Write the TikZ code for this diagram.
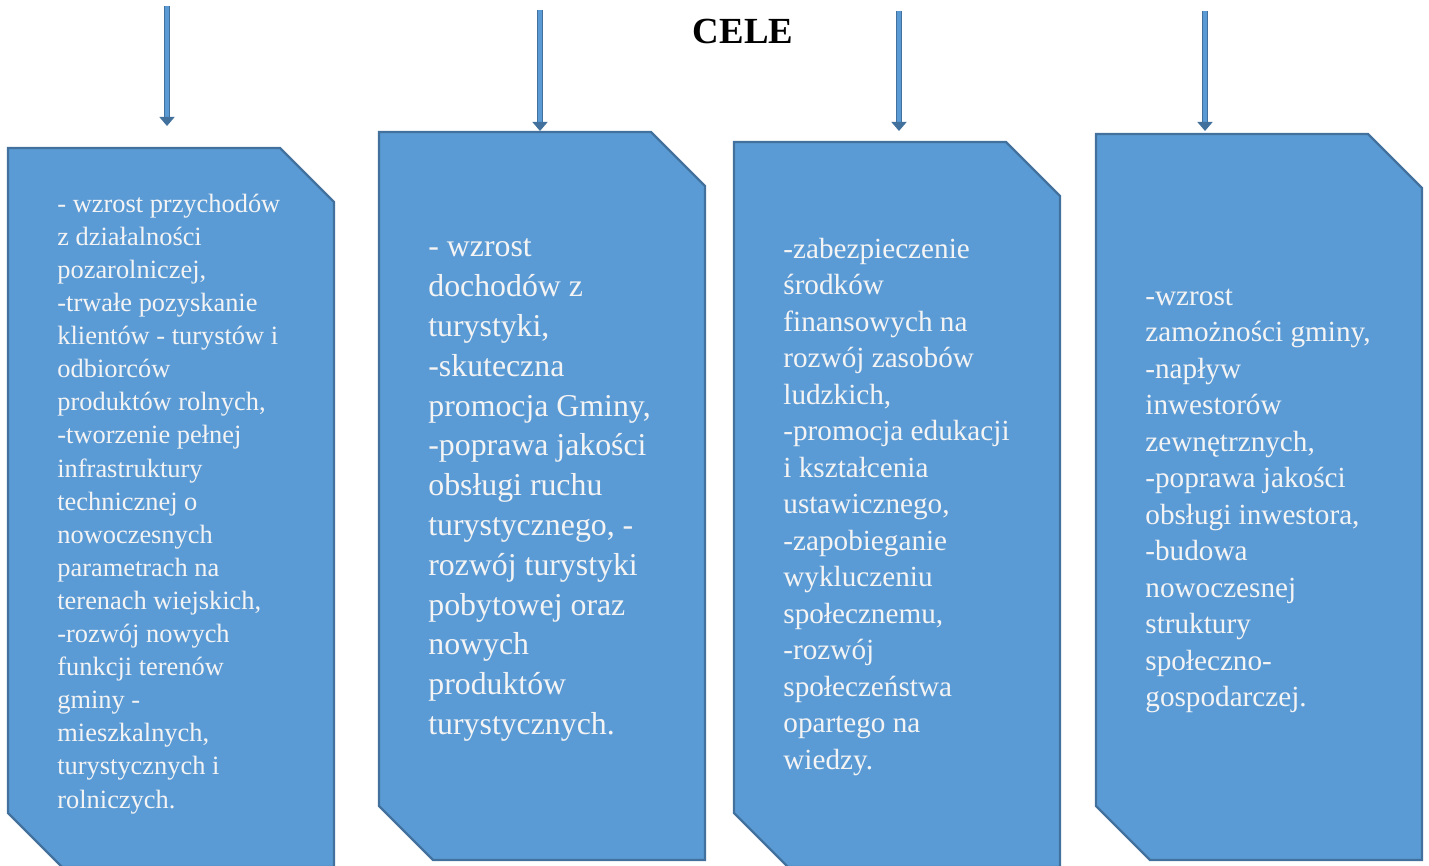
\documentclass[tikz,border=0pt]{standalone}
\usepackage{fontspec}
\setmainfont{Liberation Serif}
\usetikzlibrary{arrows.meta}
\definecolor{boxblue}{HTML}{5B9BD5}
\definecolor{edgeblue}{HTML}{41719C}
\definecolor{txtwhite}{HTML}{F4F4F4}
\tikzset{
  celbox/.style={fill=boxblue, draw=edgeblue, line width=1.2pt, line join=miter},
  celtext/.style={anchor=base west, inner sep=0pt, align=left, text=txtwhite},
  celarrow/.style={draw=edgeblue, double=boxblue, line width=0.7pt, double distance=2pt,
    -{Triangle[width=7.5pt,length=4.5pt]}}
}
\begin{document}
\begin{tikzpicture}[x=0.5pt,y=-0.5pt]
\useasboundingbox (0,0) rectangle (1429,866);
\begin{scope}
\clip (0,0) rectangle (1429,866);
%draw boxes with cut corners
\foreach \x/\t/\b in {8/148/867, 379/132/860, 734/142/867, 1096/134/860}{
\draw[celbox] (\x,\t) -- (\x+272,\t) -- (\x+326,\t+54) -- (\x+326,\b)
  -- (\x+54,\b) -- (\x,\b-54) -- cycle; }
\end{scope}
%draw arrows
\foreach \x/\a/\e [count=\i] in {167/6/126, 540/10/131, 899/11/131, 1205/11/131}{
\coordinate (s\i) at (\x,\a);
\coordinate (e\i) at (\x,\e);
\draw[celarrow] (s\i) -- (e\i); }
%title
\node[font=\fontsize{18.4}{22}\selectfont\bfseries] (cele) at (743,31) {CELE};
%draw texts (placed at baseline of last line)
\node[celtext, font=\fontsize{13.2}{16.55}\selectfont] (t1) at (57,808)
{- wzrost przychodów\\z działalności\\pozarolniczej,\\-trwałe pozyskanie\\klientów - turystów i\\odbiorców\\produktów rolnych,\\-tworzenie pełnej\\infrastruktury\\technicznej o\\nowoczesnych\\parametrach na\\terenach wiejskich,\\-rozwój nowych\\funkcji terenów\\gminy -\\mieszkalnych,\\turystycznych i\\rolniczych.};
\node[celtext, font=\fontsize{15.9}{19.9}\selectfont] (t2) at (428,734.5)
{- wzrost\\dochodów z\\turystyki,\\-skuteczna\\promocja Gminy,\\-poprawa jakości\\obsługi ruchu\\turystycznego, -\\rozwój turystyki\\pobytowej oraz\\nowych\\produktów\\turystycznych.};
\node[celtext, font=\fontsize{14.6}{18.25}\selectfont] (t3) at (783,769)
{-zabezpieczenie\\środków\\finansowych na\\rozwój zasobów\\ludzkich,\\-promocja edukacji\\i kształcenia\\ustawicznego,\\-zapobieganie\\wykluczeniu\\społecznemu,\\-rozwój\\społeczeństwa\\opartego na\\wiedzy.};
\node[celtext, font=\fontsize{14.6}{18.25}\selectfont] (t4) at (1145,706.5)
{-wzrost\\zamożności gminy,\\-napływ\\inwestorów\\zewnętrznych,\\-poprawa jakości\\obsługi inwestora,\\-budowa\\nowoczesnej\\struktury\\społeczno-\\gospodarczej.};
\end{tikzpicture}
\end{document}
